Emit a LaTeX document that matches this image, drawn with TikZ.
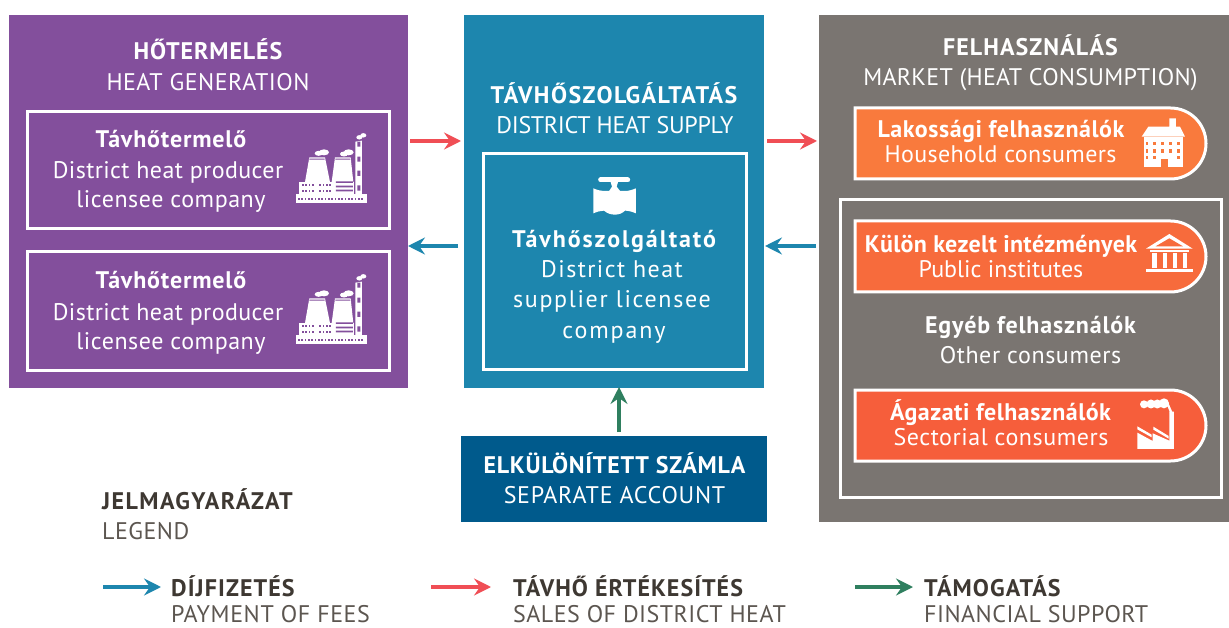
\documentclass[tikz,border=0pt]{standalone}
\usepackage{fontspec}
\setmainfont{PT Sans}
\usetikzlibrary{arrows.meta,shapes.misc}
\definecolor{cpurple}{HTML}{834F9C}
\definecolor{cblue}{HTML}{1D86AE}
\definecolor{cgrey}{HTML}{7A7571}
\definecolor{cacc}{HTML}{005A8C}
\definecolor{cpa}{HTML}{F97A3D}
\definecolor{cpb}{HTML}{F76B3C}
\definecolor{cpc}{HTML}{F65E3B}
\definecolor{ared}{HTML}{F04E55}
\definecolor{agreen}{HTML}{2F7F5F}
\definecolor{ctxt}{HTML}{3E3832}
\definecolor{ctxl}{HTML}{5C5650}
\newcommand\ls[1]{\addfontfeature{LetterSpace=#1}}
\tikzset{
 x=1pt,y=1pt,
 panel/.style={anchor=north west,inner sep=0pt,outer sep=0pt,minimum width=#1},
 framebox/.style={anchor=north west,draw=white,line width=3pt,inner sep=0pt,outer sep=0pt},
 pill/.style={rounded rectangle,rounded rectangle west arc=none,anchor=north west,draw=white,line width=3pt,
   minimum width=351pt,minimum height=71pt,inner sep=0pt,outer sep=0pt},
 tx/.style={anchor=base,inner sep=0pt,font=\fontsize{24}{28}\selectfont,text=white},
 txb/.style={tx,font=\fontsize{24}{28}\selectfont\bfseries},
 lg/.style={anchor=base west,inner sep=0pt,font=\fontsize{24}{28}\selectfont,text=ctxl},
 lgb/.style={lg,font=\fontsize{24}{28}\selectfont\bfseries,text=ctxt},
 arr/.style={line width=4pt,-{Stealth[length=17pt,width=17pt,inset=6pt]}},
 icon/.style={shift={(#1)},x=0.3333pt,y=-0.3333pt},
}
\newcommand\plant[3]{%
\begin{scope}[icon={#1,#2}]
 \fill[white] (48,222) rectangle (260,250);
 \fill[white] (58,185) rectangle (155,222);
 \fill[white] (155,185) rectangle (222,222);
 \fill[white] (75,186)--(88,112)--(135,112)--(150,186)--cycle;
 \fill[white] (155,186)--(165,112)--(212,112)--(220,186)--cycle;
 \fill[white] (226,65)--(246,62)--(246,222)--(226,222)--cycle;
 \fill[white] (116,100) ellipse (4pt and 2.5pt) (132,97) ellipse (5pt and 3pt);
 \fill[white] (192,102) ellipse (4pt and 2.5pt) (206,97) ellipse (5pt and 3pt);
 \fill[white] (238,52) ellipse (3pt and 2.2pt) (250,46) ellipse (3pt and 2.2pt);
 \fill[#3] (88,116) rectangle (134,119) (166,116) rectangle (211,119);
 \fill[#3] (232,65) rectangle (241,80) (232,110) rectangle (241,125) (232,152) rectangle (241,168) (232,196) rectangle (241,212);
 \fill[#3] (168,184) rectangle (219,189) (168,197) rectangle (219,202) (168,209) rectangle (219,214);
 \foreach \yy in {192,209}{\foreach \xx in {66,76,86,96,118,128,138,148}{\fill[#3] (\xx,\yy) rectangle ++(5,7);}}
 \foreach \xx in {54,64,...,250}{\fill[#3] (\xx,233) rectangle ++(5,8);}
\end{scope}}
\begin{document}
\begin{tikzpicture}
\useasboundingbox (0,0) rectangle (1229,-628);
\fill[white] (0,0) rectangle (1229,-628);
% panels
\node[panel=399pt,minimum height=373pt,fill=cpurple] (gen) at (9,-15) {};
\node[panel=300pt,minimum height=373pt,fill=cblue] (sup) at (464,-15) {};
\node[panel=410pt,minimum height=507pt,fill=cgrey] (mkt) at (819,-15) {};
\node[panel=306pt,minimum height=86pt,fill=cacc] (acc) at (461,-436) {};
% frames
\node[framebox,minimum width=362pt,minimum height=117pt] (prod1) at (27,-112) {};
\node[framebox,minimum width=362pt,minimum height=118pt] (prod2) at (27,-252) {};
\node[framebox,minimum width=263pt,minimum height=215pt] (supl) at (483,-154) {};
\node[framebox,minimum width=381pt,minimum height=297pt] (other) at (840,-200) {};
\node[pill,fill=cpa] (p1) at (855,-108) {};
\node[pill,fill=cpb] (p2) at (855,-221) {};
\node[pill,fill=cpc] (p3) at (855,-390) {};
% texts
\node[txb] (t1) at (208,-60) {\ls{3.7}HŐTERMELÉS};
\node[tx] (t2) at (208,-91) {\ls{2}HEAT GENERATION};
\node[txb] (t3) at (171,-148) {\ls{3.5}Távhőtermelő};
\node[tx] (t4) at (168,-179) {\ls{1.7}District heat producer};
\node[tx] (t5) at (171,-208) {\ls{2.3}licensee company};
\node[txb] (t6) at (171,-289) {\ls{3.5}Távhőtermelő};
\node[tx] (t7) at (168,-320) {\ls{1.7}District heat producer};
\node[tx] (t8) at (171,-349) {\ls{2.3}licensee company};
\node[txb] (t9) at (614,-104) {\ls{6}TÁVHŐSZOLGÁLTATÁS};
\node[tx] (t10) at (615,-134) {\ls{-1.3}DISTRICT HEAT SUPPLY};
\node[txb] (t11) at (614,-248) {\ls{8}Távhőszolgáltató};
\node[tx] (t12) at (612,-278) {\ls{6}District heat};
\node[tx] (t13) at (612,-308) {\ls{7}supplier licensee};
\node[tx] (t14) at (614,-338) {\ls{8}company};
\node[txb] (t15) at (1030.5,-56) {\ls{4.5}FELHASZNÁLÁS};
\node[tx] (t16) at (1030.5,-86) {\ls{1.2}MARKET (HEAT CONSUMPTION)};
\node[txb] (t17) at (1001,-138) {\ls{2.3}Lakossági felhasználók};
\node[tx] (t18) at (1000.5,-163) {\ls{1.5}Household consumers};
\node[txb] (t19) at (1001,-253) {\ls{1.3}Külön kezelt intézmények};
\node[tx] (t20) at (1001,-278) {Public institutes};
\node[txb] (t21) at (1030.5,-334) {\ls{3.5}Egyéb felhasználók};
\node[tx] (t22) at (1030.5,-363) {\ls{2.5}Other consumers};
\node[txb] (t23) at (1000.5,-420) {\ls{2}Ágazati felhasználók};
\node[tx] (t24) at (1001,-445) {\ls{2.3}Sectorial consumers};
\node[txb] (t25) at (614.5,-473) {\ls{3}ELKÜLÖNÍTETT SZÁMLA};
\node[tx] (t26) at (614.5,-503) {\ls{3}SEPARATE ACCOUNT};
\node[lgb] (l1) at (102,-509) {\ls{6}JELMAGYARÁZAT};
\node[lg] (l2) at (102,-539) {\ls{2}LEGEND};
\node[lgb] (l3) at (171,-596) {\ls{4.5}DÍJFIZETÉS};
\node[lg] (l4) at (171,-622) {\ls{2.5}PAYMENT OF FEES};
\node[lgb] (l5) at (513,-596) {\ls{4.2}TÁVHŐ ÉRTÉKESÍTÉS};
\node[lg] (l6) at (513,-622) {\ls{2}SALES OF DISTRICT HEAT};
\node[lgb] (l7) at (924,-596) {\ls{4.5}TÁMOGATÁS};
\node[lg] (l8) at (924,-622) {\ls{2}FINANCIAL SUPPORT};
% arrows
\draw[arr,ared] ([xshift=2pt,yshift=-126pt]gen.north east) -- ([xshift=-3pt,yshift=-126pt]sup.north west);
\draw[arr,cblue] ([xshift=-6pt,yshift=-231pt]sup.north west) -- ([xshift=0pt,yshift=-231pt]gen.north east);
\draw[arr,ared] ([xshift=3pt,yshift=-126pt]sup.north east) -- ([xshift=-2pt,yshift=-126pt]mkt.north west);
\draw[arr,cblue] ([xshift=-3pt,yshift=-231pt]mkt.north west) -- ([xshift=1pt,yshift=-231pt]sup.north east);
\draw[arr,agreen] ([xshift=5pt,yshift=4pt]acc.north) -- ([xshift=5pt,yshift=1pt]acc.north |- sup.south);
\coordinate (k1) at (103,-587); \coordinate (k2) at (161,-587);
\coordinate (k3) at (431,-587); \coordinate (k4) at (491,-587);
\coordinate (k5) at (855,-587); \coordinate (k6) at (913,-587);
\draw[arr,cblue] (k1) -- (k2);
\draw[arr,ared] (k3) -- (k4);
\draw[arr,agreen] (k5) -- (k6);
% icons
\plant{280}{-120}{cpurple}
\plant{280}{-261}{cpurple}
% valve
\begin{scope}[icon={560,-160}]
 \fill[white] (100,85) .. controls (112,90) and (122,93) .. (132,93) -- (195,93) .. controls (205,93) and (216,90) .. (228,85) -- (228,160) .. controls (216,155) and (205,152) .. (195,152) .. controls (180,168) and (150,168) .. (132,152) .. controls (122,152) and (112,155) .. (100,160) -- cycle;
 \fill[white] (150,60)--(176,60)--(170,80)--(182,95)--(146,95)--(156,80)--cycle;
 \draw[white,line width=5pt,line cap=round] (122,60)--(203,60);
\end{scope}
% house
\begin{scope}[icon={1040,-100}]
 \fill[white] (305,110)--(325,80)--(388,80)--(388,55)--(408,55)--(408,80)--(420,80)--(435,110)--cycle;
 \fill[white] (312,112) rectangle (430,200);
 \fill[cpa] (362,176) rectangle (384,200);
 \foreach \xx in {338,362,386,410}{\foreach \yy in {126,148}{\fill[cpa] (\xx,\yy) rectangle ++(9,10);}}
 \foreach \xx in {338,410}{\fill[cpa] (\xx,168) rectangle ++(9,10);}
 \foreach \yy in {126,148,168}{\fill[cpa] (318,\yy) rectangle ++(6,10);}
\end{scope}
% temple
\begin{scope}[icon={1040,-100}]
 \fill[white] (318,446)--(388,402)--(458,446)--cycle;
 \fill[cpb] (347,439)--(388,415)--(429,439)--cycle;
 \fill[white] (330,449) rectangle (446,457);
 \foreach \xx in {337,368,398,428}{\fill[white] (\xx,460) rectangle ++(14,44);}
 \fill[white] (318,507) rectangle (458,517);
\end{scope}
% factory
\begin{scope}[icon={1040,-380}]
 \fill[white] (292,207)--(292,158)--(338,183)--(338,160)--(388,182)--(388,95)--(402,95)--(402,207)--cycle;
 \fill[white] (292,139)--(335,164)--(335,172)--(292,148)--cycle;
 \fill[white] (340,140)--(386,168)--(386,176)--(340,149)--cycle;
 \fill[white] (312,73) circle (4pt) (333,72) circle (4.5pt) (352,72) circle (4.5pt) (372,70) circle (5pt);
 \fill[white] (380,72) -- (390,98) -- (398,98) -- (384,66) -- cycle;
\end{scope}
\end{tikzpicture}
\end{document}
